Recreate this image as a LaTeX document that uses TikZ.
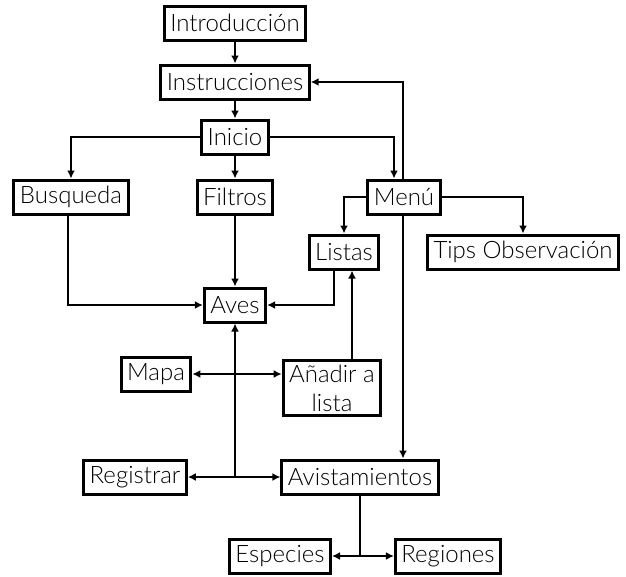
\documentclass[tikz,border=0pt]{standalone}
\usepackage{fontspec}
\setmainfont{Lato}[UprightFont=* Light]
\usetikzlibrary{arrows.meta}

\begin{document}
\begin{tikzpicture}[x=1pt, y=-1pt, ->, >={Latex[length=8pt,width=8pt]}, line width=2.8pt]
    \tikzset{caja/.style={draw=black, line width=3pt, fill=white, inner xsep=6pt, inner ysep=2pt,
                          minimum height=34pt, align=center, font=\fontsize{24}{29}\selectfont}}
    \useasboundingbox (0, 0) rectangle (626, 576);

    \node[caja] at (235, 23)  (intro)    {Introducción};
    \node[caja] at (235, 82)  (instr)    {Instrucciones};
    \node[caja] at (235, 137) (inicio)   {Inicio};
    \node[caja] at (71, 197)  (busqueda) {Busqueda};
    \node[caja] at (235, 197) (filtros)  {Filtros};
    \node[caja] at (404, 197) (menu)     {Menú};
    \node[caja] at (344, 252) (listas)   {Listas};
    \node[caja] at (523, 252) (tips)     {Tips Observación};
    \node[caja] at (235, 305) (aves)     {Aves};
    \node[caja] at (156, 374) (mapa)     {Mapa};
    \node[caja, inner ysep=4pt] at (332, 388) (anadir) {Añadir a\\lista};
    \node[caja] at (135, 477) (registrar) {Registrar};
    \node[caja] at (360, 477) (avist)    {Avistamientos};
    \node[caja] at (280, 556) (especies) {Especies};
    \node[caja] at (448, 556) (regiones) {Regiones};

    \coordinate (cruce) at (aves |- registrar);
    \coordinate (baja) at (avist.south |- especies);

    \draw (intro) -- (instr);
    \draw (instr) -- (inicio);
    \draw (inicio.west) -| (busqueda.north);
    \draw (inicio) -- (filtros);
    \draw (inicio.east) -| ([xshift=-10pt]menu.north);
    \draw ([xshift=-1pt]menu.north) |- (instr.east);
    \draw (menu.west) -| (listas.north);
    \draw (menu.east) -| (tips.north);
    \draw ([xshift=-1pt]menu.south) -- ([xshift=-1pt]menu.south |- avist.north);
    \draw ([xshift=-3pt]busqueda.south) |- (aves.west);
    \draw (filtros) -- (aves);
    \draw ([xshift=-10pt]listas.south) |- (aves.east);
    \draw ([xshift=20pt]anadir.north) -- ([xshift=20pt]anadir.north |- listas.south);
    \draw (cruce) -- (aves.south);
    \draw[<->] (mapa.east) -- (mapa.east -| anadir.west);
    \draw[<->] (registrar) -- (avist);
    \draw[-] (avist.south) -- (baja);
    \draw[<->] (especies) -- (regiones);
\end{tikzpicture}
\end{document}
